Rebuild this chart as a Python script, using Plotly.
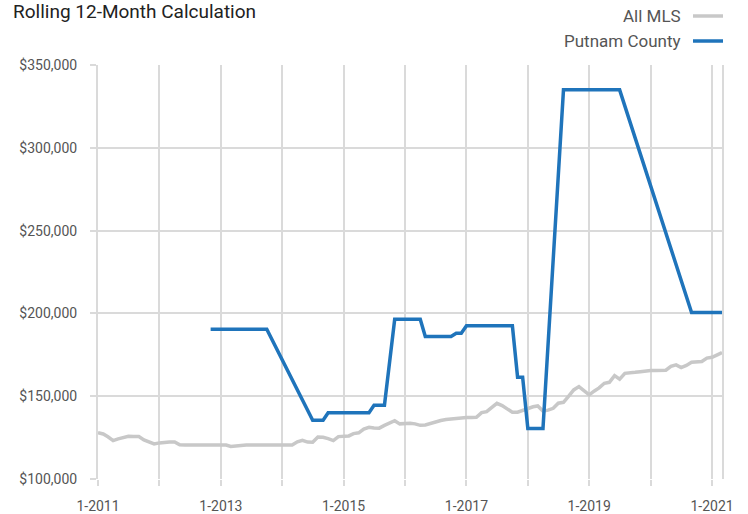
import pandas as pd
import plotly.graph_objects as go

# Monthly dates Jan 2011 .. Mar 2021
months = pd.date_range("2011-01-01", "2021-03-01", freq="MS").strftime("%Y-%m-%d").tolist()

all_mls = [
    128000, 127200, 125500, 123200, 124200, 125200, 125800, 125600, 125600, 123600,
    122600, 121200, 121800, 122200, 122400, 122400, 120700, 120500, 120500, 120500,
    120500, 120500, 120500, 120500, 120500, 120500, 119600, 119900, 120500, 120500,
    120500, 120500, 120500, 120500, 120500, 120500, 120500, 120500, 120500, 122500,
    123400, 122300, 122200, 125400, 125200, 124400, 123200, 125600, 126000, 126000,
    127400, 127900, 130200, 131200, 130800, 130700, 132400, 134000, 135200, 133300,
    133600, 133700, 133300, 132400, 132600, 133600, 134600, 135300, 135900, 136300,
    136700, 136600, 137100, 137200, 137300, 140100, 140700, 143300, 145700, 144300,
    142500, 140300, 140300, 141400, 142800, 143600, 144100, 141000, 141600, 142700,
    145800, 146300, 150000, 153800, 155800, 153500, 150800, 153200, 155000, 157800,
    158400, 162400, 160300, 163800, 163900, 164400, 164800, 165400, 165500, 165500,
    165500, 165700, 168000, 168900, 167300, 168600, 170500, 170800, 171000, 173000,
    173500, 175000, 176400,
]

N = None
putnam = (
    [N] * 22
    + [190500] * 12            # Nov 2012 - Oct 2013
    + [N] * 8                  # gap
    + [135500] * 3             # Jul - Sep 2014
    + [140000] * 9             # Oct 2014 - Jun 2015
    + [144500] * 3             # Jul - Sep 2015
    + [N]                      # Oct 2015
    + [196500] * 6             # Nov 2015 - Apr 2016
    + [186000] * 6             # May - Oct 2016
    + [188000] * 2             # Nov - Dec 2016
    + [192500] * 10            # Jan - Oct 2017
    + [161500] * 2             # Nov - Dec 2017
    + [130500] * 4             # Jan - Apr 2018
    + [N] * 3                  # gap
    + [335000] * 12            # Aug 2018 - Jul 2019
    + [N] * 13                 # gap
    + [200500] * 7             # Sep 2020 - Mar 2021
)

y_ticks = [100000, 150000, 200000, 250000, 300000, 350000]
y_labels = ["$100,000", "$150,000", "$200,000", "$250,000", "$300,000", "$350,000"]
x_ticks = ["2011-01-01", "2013-01-01", "2015-01-01", "2017-01-01", "2019-01-01", "2021-01-01"]
x_labels = ["1-2011", "1-2013", "1-2015", "1-2017", "1-2019", "1-2021"]

GRAY = "#c8c8c8"
BLUE = "#1f74bb"
GRID = "#dadada"
FONT = "Roboto"

L, R, T, B = 98, 26, 65, 35
W, H = 748, 514
PW, PH = W - L - R, H - T - B

def px_x(x):
    return (x - L) / PW

def px_y(y):
    return 1 - (y - T) / PH

fig = go.Figure()
fig.add_trace(go.Scatter(x=months, y=all_mls, mode="lines", name="All MLS",
                         line=dict(color=GRAY, width=3.5), connectgaps=True))
fig.add_trace(go.Scatter(x=months[:len(putnam)], y=putnam, mode="lines", name="Putnam County",
                         line=dict(color=BLUE, width=3.5), connectgaps=True))

fig.update_layout(
    width=W, height=H,
    margin=dict(l=L, r=R, t=T, b=B, autoexpand=False),
    paper_bgcolor="white", plot_bgcolor="white",
    showlegend=False,
    font=dict(family=FONT, color="#555555", size=15),
)
fig.add_annotation(xref="paper", yref="paper", x=px_x(11), y=px_y(11),
                   text="Rolling 12-Month Calculation", showarrow=False,
                   xanchor="left", yanchor="middle",
                   font=dict(family=FONT, size=19, color="#222222"))
fig.update_xaxes(
    type="date", range=["2011-01-01", "2021-03-01"],
    tickvals=x_ticks, ticktext=x_labels,
    showgrid=True, gridcolor=GRID, gridwidth=2,
    ticks="outside", ticklen=6, tickcolor=GRID, tickwidth=2,
    minor=dict(dtick="M12", showgrid=True, gridcolor=GRID, gridwidth=2,
               ticks="outside", ticklen=6, tickcolor=GRID, tickwidth=2),
    tickfont=dict(size=14, color="#555555"),
    ticklabelstandoff=8, automargin=False,
    zeroline=False, showline=False,
)
fig.update_yaxes(
    range=[100000, 350000], tickvals=y_ticks, ticktext=y_labels,
    showgrid=True, gridcolor=GRID, gridwidth=2,
    ticks="outside", ticklen=6, tickcolor=GRID, tickwidth=2,
    tickfont=dict(size=14, color="#555555"),
    ticklabelstandoff=10, automargin=False,
    showline=True, mirror=True, linecolor=GRID, linewidth=2,
    zeroline=False,
)

# Legend drawn with text on the left and line key on the right
legend_items = [("All MLS", GRAY, 16), ("Putnam County", BLUE, 41)]
for name, color, ypx in legend_items:
    yp = px_y(ypx)
    fig.add_annotation(xref="paper", yref="paper", x=px_x(683), y=yp,
                       text=name, showarrow=False, xanchor="right", yanchor="middle",
                       font=dict(family=FONT, size=17, color="#555555"))
    fig.add_shape(type="line", xref="paper", yref="paper",
                  x0=px_x(693), x1=px_x(723), y0=yp, y1=yp,
                  line=dict(color=color, width=3.5))

fig.write_html("out.html", config={"displayModeBar": False},
               post_script="document.body.style.margin='0';")
